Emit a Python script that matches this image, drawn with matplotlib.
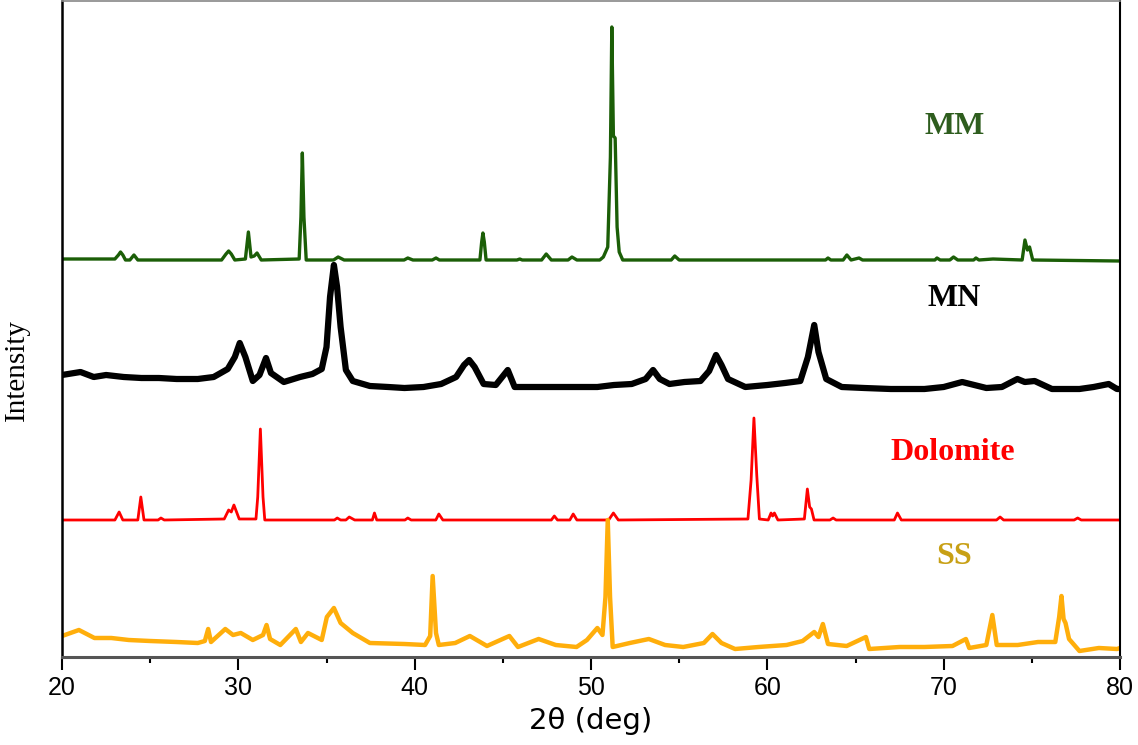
import matplotlib
matplotlib.use("Agg")
import matplotlib.pyplot as plt
from matplotlib.ticker import MultipleLocator

# stacked XRD traces (arbitrary intensity units)
mm_x = [20.0, 23.0, 23.2, 23.32, 23.45, 23.6, 23.85, 24.08, 24.3, 29.05, 29.3, 29.45, 29.6,
        29.8, 30.4, 30.57, 30.72, 30.9, 31.06, 31.3, 33.45, 33.55, 33.63, 33.72, 33.85, 35.4,
        35.66, 36.0, 39.4, 39.61, 39.9, 41.0, 41.21, 41.4, 43.7, 43.8, 43.87, 43.95, 44.05,
        45.8, 45.96, 46.1, 47.2, 47.46, 47.75, 48.7, 48.92, 49.2, 50.5, 50.7, 50.95, 51.1,
        51.18, 51.27, 51.37, 51.48, 51.6, 51.8, 54.55, 54.75, 55.0, 63.3, 63.44, 63.6, 64.3,
        64.51, 64.75, 65.2, 65.4, 69.5, 69.62, 69.8, 70.35, 70.56, 70.8, 71.7, 71.83, 72.0,
        72.8, 74.45, 74.61, 74.75, 74.87, 75.05, 80.0]
mm_y = [398, 398, 402, 405, 402, 397, 397, 402, 397, 397, 403, 406, 403,
        397, 398, 425, 400, 401, 404, 397, 398, 440, 504, 440, 397, 397,
        400, 397, 397, 399, 397, 397, 399, 397, 397, 415, 424, 415, 397,
        397, 398, 397, 397, 403, 397, 397, 400, 397, 397, 400, 410, 500,
        630, 521, 519, 430, 405, 397, 397, 401, 397, 397, 399, 397, 397,
        402, 397, 399, 397, 397, 399, 397, 397, 400, 397, 397, 399, 397,
        398, 397, 417, 407, 410, 397, 396]

mn_x = [20.0, 21.05, 21.8, 22.5, 23.5, 24.5, 25.5, 26.5, 27.7, 28.6, 29.4, 29.8, 30.08, 30.4,
        30.82, 31.2, 31.57, 31.85, 32.58, 33.5, 34.2, 34.73, 35.0, 35.2, 35.42, 35.6, 35.8,
        36.1, 36.49, 37.46, 38.5, 39.42, 40.5, 41.5, 42.35, 42.8, 43.09, 43.4, 43.91, 44.6,
        45.28, 45.67, 46.5, 47.5, 48.5, 49.38, 50.36, 51.3, 52.31, 53.1, 53.52, 53.9, 54.45,
        55.3, 56.21, 56.7, 57.09, 57.4, 57.77, 58.75, 60.0, 61.0, 61.87, 62.3, 62.66, 62.9,
        63.34, 64.22, 65.5, 67.0, 68.91, 70.0, 71.05, 72.42, 73.3, 74.18, 74.6, 75.16, 76.14,
        77.7, 78.5, 79.36, 79.83, 80.0]
mn_y = [282, 285, 280, 282, 280, 279, 279, 278, 278, 280, 288, 300, 314, 300,
        276, 282, 299, 284, 275, 280, 283, 288, 310, 360, 392, 370, 330,
        287, 276, 271, 270, 269, 270, 273, 280, 292, 297, 290, 273, 272,
        287, 270, 270, 270, 270, 270, 270, 272, 273, 278, 287, 278, 273,
        275, 276, 286, 302, 292, 278, 270, 272, 274, 276, 300, 332, 305,
        278, 270, 269, 268, 268, 270, 275, 269, 270, 278, 275, 276, 268,
        268, 270, 273, 268, 268]

dol_x = [20.0, 23.0, 23.24, 23.45, 24.3, 24.47, 24.65, 25.45, 25.61, 25.8, 29.2, 29.45, 29.6,
         29.75, 30.05, 31.0, 31.1, 31.25, 31.4, 31.5, 35.45, 35.61, 35.8, 36.1, 36.29, 36.6,
         37.6, 37.72, 37.85, 39.45, 39.61, 39.8, 41.2, 41.37, 41.6, 47.75, 47.92, 48.1, 48.8,
         48.99, 49.2, 51.0, 51.27, 51.55, 58.9, 59.08, 59.24, 59.4, 59.55, 60.05, 60.21, 60.3,
         60.4, 60.6, 62.1, 62.27, 62.4, 62.5, 62.65, 63.55, 63.73, 63.9, 67.2, 67.38, 67.6,
         73.0, 73.2, 73.4, 77.4, 77.6, 77.8, 80.0]
dol_y = [137, 137, 145, 137, 137, 160, 137, 137, 139, 137, 138, 147, 145,
         152, 138, 138, 160, 228, 160, 137, 137, 139, 137, 137, 140, 137,
         137, 144, 137, 137, 139, 137, 137, 143, 137, 137, 141, 137, 137,
         143, 137, 137, 144, 137, 138, 177, 239, 182, 138, 137, 144, 141,
         144, 137, 138, 168, 150, 148, 137, 137, 139, 137, 137, 144, 137,
         137, 140, 137, 137, 139, 137, 137]

ss_x = [20.0, 20.96, 21.84, 22.8, 23.79, 25.0, 26.5, 27.7, 28.1, 28.29, 28.45, 29.26, 29.7,
        30.14, 30.82, 31.4, 31.6, 31.8, 32.38, 33.26, 33.55, 33.95, 34.73, 35.02, 35.42, 35.8,
        36.49, 37.46, 39.42, 40.59, 40.88, 41.02, 41.21, 41.37, 42.3, 43.13, 44.1, 45.37,
        45.86, 47.03, 48.0, 49.18, 49.77, 50.36, 50.65, 50.82, 50.95, 51.08, 51.23, 52.2,
        53.28, 54.2, 55.23, 56.4, 56.89, 57.4, 58.17, 59.5, 61.09, 62.0, 62.66, 62.9, 63.15,
        63.44, 64.5, 65.59, 65.78, 67.5, 68.91, 70.5, 71.26, 71.45, 72.42, 72.76, 73.01,
        74.2, 75.35, 76.33, 76.55, 76.68, 76.8, 76.91, 77.11, 77.7, 78.8, 79.83, 80.0]
ss_y = [21, 27, 19, 19, 17, 16, 15, 14, 16, 28, 15, 28, 22,
        24, 17, 22, 32, 18, 12, 28, 15, 24, 17, 40, 49, 34,
        24, 14, 13, 12, 21, 81, 24, 12, 14, 21, 11, 21,
        10, 18, 12, 10, 17, 29, 22, 60, 137, 60, 10, 14,
        18, 12, 10, 14, 23, 14, 8, 10, 12, 16, 25, 20, 33,
        13, 11, 20, 8, 10, 10, 11, 18, 9, 12, 42, 12,
        12, 15, 15, 40, 61, 38, 34, 18, 6, 9, 8, 9]

names = ["MM", "MN", "Dolomite", "SS"]
name_x = [70.6, 70.6, 70.5, 70.6]
name_y = [530, 359, 204, 100]

line_colors = ["#1b5e07", "#000000", "#ff0000", "#ffae0b"]
text_colors = ["#2e5d1e", "#000000", "#ff0000", "#c8a015"]

fig = plt.figure(figsize=(11.38, 7.45), dpi=100)
ax = fig.add_axes([62 / 1138, 88 / 745, 1058 / 1138, 656 / 745])

ax.plot(mm_x, mm_y, color=line_colors[0], lw=2.4)
ax.plot(mn_x, mn_y, color=line_colors[1], lw=4.5, solid_joinstyle="round")
ax.plot(dol_x, dol_y, color=line_colors[2], lw=2.0)
ax.plot(ss_x, ss_y, color=line_colors[3], lw=3.2, solid_joinstyle="round")

for name, tx, ty, c in zip(names, name_x, name_y, text_colors):
    ax.text(tx, ty, name, color=c, fontsize=23, fontweight="bold",
            family="Liberation Serif", ha="center", va="center")

ax.set_xlim(20, 80)
ax.set_ylim(0, 656)
ax.set_yticks([])
ax.xaxis.set_major_locator(MultipleLocator(10))
ax.xaxis.set_minor_locator(MultipleLocator(5))
ax.tick_params(axis="x", which="major", direction="out", length=9, width=1.5, pad=5)
ax.tick_params(axis="x", which="minor", direction="out", length=4.5, width=1.5)
for lab in ax.get_xticklabels():
    lab.set_family("Liberation Sans")
    lab.set_fontsize(18)

ax.spines["left"].set_color("black")
ax.spines["left"].set_linewidth(1.8)
ax.spines["right"].set_color("black")
ax.spines["right"].set_linewidth(1.5)
ax.spines["top"].set_color("#888888")
ax.spines["top"].set_linewidth(1.2)
ax.spines["bottom"].set_color("#555555")
ax.spines["bottom"].set_linewidth(2.2)

ax.set_xlabel("2θ (deg)", fontsize=21, family="DejaVu Sans", labelpad=5)
ax.set_ylabel("Intensity", fontsize=21, family="Liberation Serif")
ax.yaxis.set_label_coords(-0.03, 0.4375)

fig.savefig("out.png", dpi=100)
